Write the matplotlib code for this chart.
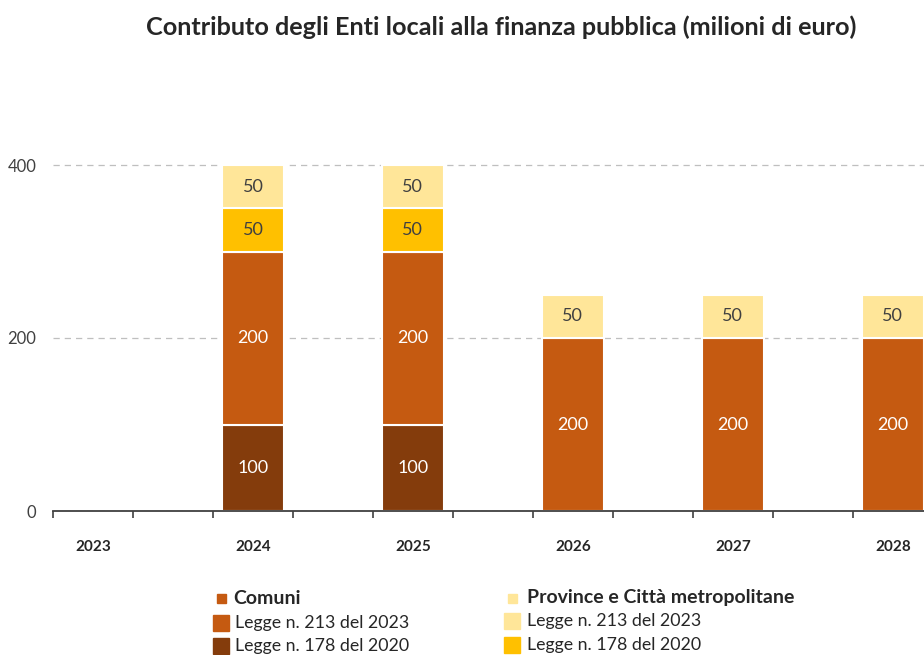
import numpy as np
import matplotlib
matplotlib.use("Agg")
import matplotlib.pyplot as plt
from matplotlib.patches import Rectangle

plt.rcParams["font.family"] = ["Lato", "DejaVu Sans"]

YEARS = ["2023", "2024", "2025", "2026", "2027", "2028"]
comuni_178 = [0, 100, 100, 0, 0, 0]
comuni_213 = [0, 200, 200, 200, 200, 200]
prov_178 = [0, 50, 50, 0, 0, 0]
prov_213 = [0, 50, 50, 50, 50, 50]

SERIES = [
    (comuni_178, "#843C0C", "white"),
    (comuni_213, "#C55A11", "white"),
    (prov_178, "#FFC000", "#404040"),
    (prov_213, "#FFE699", "#404040"),
]

fig = plt.figure(figsize=(9.24, 6.55), dpi=100)
ax = fig.add_axes([53 / 924, 1 - 511 / 655, 1 - 53 / 924, (511 - 78.5) / 655])

x = np.arange(len(YEARS)) * 2          # every other category slot is empty
bottom = np.zeros(len(YEARS))
for vals, col, tcol in SERIES:
    vals = np.array(vals, dtype=float)
    m = vals > 0
    ax.bar(x[m], vals[m], 0.78, bottom=bottom[m], color=col, edgecolor="white",
           linewidth=1.5, zorder=2)
    for xi, b, v in zip(x[m], bottom[m], vals[m]):
        ax.text(xi, b + v / 2, f"{v:.0f}", ha="center", va="center",
                fontsize=13, color=tcol, zorder=4)
    bottom += vals

ax.set_xlim(-0.5, 10.39)
ax.set_ylim(0, 500)
ax.set_yticks([0, 200, 400])
ax.set_yticklabels(["0", "200", "400"], fontsize=12, color="#404040")
ax.tick_params(axis="y", length=0, pad=12)
ax.grid(axis="y", color="#BFBFBF", linestyle=(0, (5, 4)), linewidth=0.9, zorder=0)

ax.set_xticks(x)
ax.set_xticklabels(YEARS, fontsize=11, fontweight="bold", color="#262626")
ax.set_xticks(np.arange(-0.5, 10.0, 1.0), minor=True)
ax.tick_params(axis="x", which="major", length=0, pad=21)
ax.tick_params(axis="x", which="minor", length=5, width=1.2, color="#404040", direction="out")

for sp in ("top", "right", "left"):
    ax.spines[sp].set_visible(False)
ax.spines["bottom"].set_color("#404040")
ax.spines["bottom"].set_linewidth(1.3)
ax.spines["bottom"].set_zorder(5)

fig.text(0.542, 1 - 27 / 655, "Contributo degli Enti locali alla finanza pubblica (milioni di euro)",
         ha="center", va="center", fontsize=18.2, fontweight="bold", color="#262626")

# legend drawn by hand, two columns
def sq(xp, yp, s, col):
    fig.patches.append(Rectangle((xp / 924, 1 - (yp + s / 2) / 655), s / 924, s / 655,
                                 transform=fig.transFigure, color=col))

def lt(xp, yp, txt, bold=False):
    fig.text(xp / 924, 1 - yp / 655, txt, ha="left", va="center", fontsize=14 if bold else 12.8,
             fontweight="bold" if bold else "normal", color="#262626")

sq(217, 598, 9, "#C55A11"); lt(233, 598, "Comuni", True)
sq(213, 623, 16, "#C55A11"); lt(235, 623, "Legge n. 213 del 2023")
sq(213, 646, 16, "#843C0C"); lt(235, 646, "Legge n. 178 del 2020")
sq(508, 598, 9, "#FFE699"); lt(527, 598, "Province e Città metropolitane", True)
sq(504, 621, 16, "#FFE699"); lt(527, 621, "Legge n. 213 del 2023")
sq(504, 645, 16, "#FFC000"); lt(527, 645, "Legge n. 178 del 2020")

fig.savefig("out.png", dpi=100)
